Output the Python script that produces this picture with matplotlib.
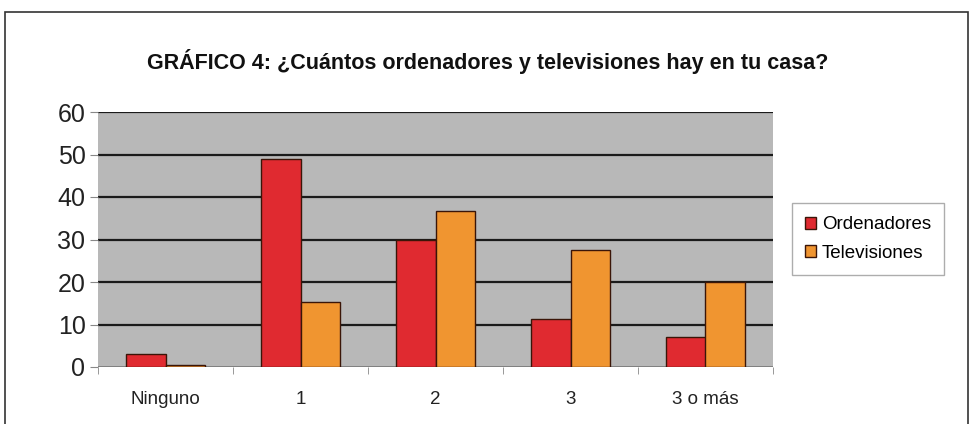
import matplotlib.pyplot as plt
import numpy as np
from matplotlib.patches import Rectangle

categories = ["Ninguno", "1", "2", "3", "3 o más"]
ordenadores = [3, 49, 30, 11.3, 7]
televisiones = [0.4, 15.3, 36.8, 27.5, 20]
yticks = [0, 10, 20, 30, 40, 50, 60]

plt.rcParams['font.family'] = ['Liberation Sans', 'DejaVu Sans']

fig = plt.figure(figsize=(9.75, 4.24), dpi=100)
fig.patch.set_facecolor("white")

# outer frame of the picture
fig.patches.append(Rectangle((5 / 975, -0.1), 963 / 975, 1.1 - 12 / 424,
                             transform=fig.transFigure, fill=False,
                             edgecolor="#333333", linewidth=1.2))

ax = fig.add_axes([98 / 975, 57 / 424, 675 / 975, 255 / 424])
ax.set_facecolor("#b8b8b8")

x = np.arange(len(categories))
w = 0.29
ax.bar(x - w / 2, ordenadores, w, color="#e02a30", edgecolor="#3a1508",
       linewidth=1.0, label="Ordenadores", zorder=3)
ax.bar(x + w / 2, televisiones, w, color="#f09530", edgecolor="#3a1508",
       linewidth=1.0, label="Televisiones", zorder=3)

ax.set_xlim(-0.5, len(categories) - 0.5)
ax.set_ylim(0, 60)
ax.set_yticks(yticks)
ax.set_yticklabels([str(v) for v in yticks], fontsize=18, color="#222222")
for v in yticks[1:]:
    ax.axhline(v, color="#1a1a1a", linewidth=1.6, zorder=1)
ax.axhline(0, color="#777777", linewidth=1.2, zorder=2)

ax.set_xticks(x)
ax.set_xticklabels(categories, fontsize=13.5, color="#222222")
ax.tick_params(axis="x", length=0, pad=17)
ax.set_xticks(np.arange(-0.5, len(categories)), minor=True)
ax.tick_params(axis="x", which="minor", length=5, color="#888888")
ax.tick_params(axis="y", length=6, color="#888888", pad=3)
for s in ax.spines.values():
    s.set_visible(False)

fig.text(0.5, 1 - 62 / 424, "GRÁFICO 4: ¿Cuántos ordenadores y televisiones hay en tu casa?",
         ha="center", va="center", fontsize=15.5, fontweight="bold", color="#111111")

leg = fig.legend(loc="center left", bbox_to_anchor=(792 / 975, 1 - 239 / 424),
                 fontsize=13.5, frameon=True, fancybox=False, handlelength=0.6,
                 handleheight=0.6, handletextpad=0.3, borderpad=0.7,
                 labelspacing=0.6, borderaxespad=0)
leg.get_frame().set_edgecolor("#999999")
leg.get_frame().set_linewidth(1.0)

fig.savefig("out.png", dpi=100)
